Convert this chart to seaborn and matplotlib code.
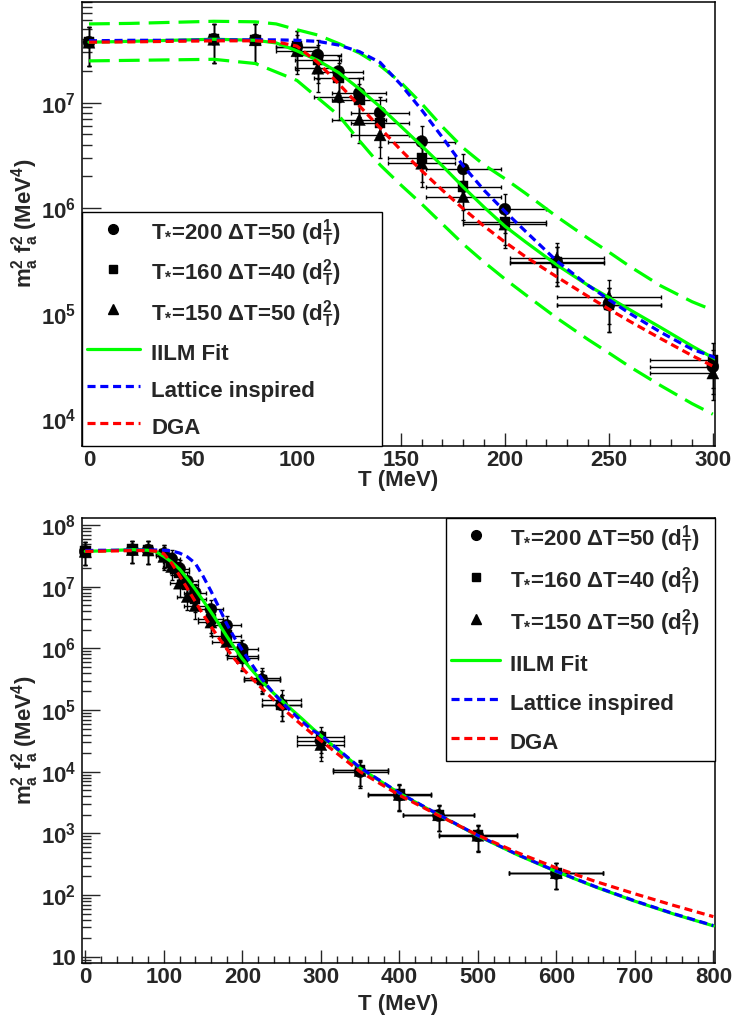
import numpy as np
import pandas as pd
import matplotlib
matplotlib.use('Agg')
import matplotlib.pyplot as plt
import seaborn as sns
from matplotlib.lines import Line2D
from matplotlib.ticker import LogLocator, MultipleLocator, FuncFormatter, NullFormatter, FixedLocator

# model curves (log10 of m_a^2 f_a^2 in MeV^4)
T_curve = [0, 20, 40, 60, 80, 90, 100, 110, 120, 130, 140, 150, 160, 170, 180, 190, 200, 210,
           225, 240, 250, 260, 275, 290, 300, 350, 400, 450, 500, 550, 600, 650, 700, 750, 800]
iilm_log = [7.572, 7.58, 7.59, 7.60, 7.59, 7.565, 7.49, 7.40, 7.285, 7.13, 6.96, 6.775, 6.59, 6.40,
            6.20, 6.01, 5.83, 5.68, 5.463, 5.27, 5.155, 5.04, 4.87, 4.695, 4.585,
            4.055, 3.65, 3.30, 2.96, 2.655, 2.38, 2.13, 1.90, 1.69, 1.50]
lattice_log = [7.585, 7.59, 7.59, 7.593, 7.594, 7.594, 7.59, 7.58, 7.545, 7.483, 7.38, 7.17, 6.93,
               6.67, 6.40, 6.17, 5.97, 5.78, 5.50, 5.27, 5.135, 5.005, 4.825, 4.665, 4.595,
               4.065, 3.655, 3.305, 2.965, 2.66, 2.385, 2.135, 1.905, 1.695, 1.505]
dga_log = [7.572, 7.575, 7.58, 7.585, 7.585, 7.575, 7.535, 7.38, 7.18, 6.97, 6.76, 6.55, 6.355,
           6.17, 5.995, 5.83, 5.68, 5.54, 5.35, 5.165, 5.045, 4.93, 4.765, 4.605, 4.505,
           4.0, 3.62, 3.29, 2.97, 2.69, 2.44, 2.22, 2.02, 1.83, 1.65]

# IILM uncertainty band (top panel only)
T_band = T_curve[:25]
band_hi_log = [7.745, 7.75, 7.76, 7.77, 7.765, 7.745, 7.69, 7.64, 7.56, 7.47, 7.35, 7.19, 6.99,
               6.77, 6.57, 6.41, 6.28, 6.14, 5.92, 5.715, 5.585, 5.45, 5.265, 5.115, 5.035]
band_lo_log = [7.395, 7.40, 7.405, 7.41, 7.37, 7.29, 7.21, 7.045, 6.88, 6.64, 6.41, 6.22, 6.04,
               5.85, 5.66, 5.49, 5.33, 5.18, 4.96, 4.757, 4.63, 4.50, 4.32, 4.15, 4.05]

# data points
T_pts = [0, 60, 80, 100, 110, 120, 130, 140, 160, 180, 200, 225, 250, 300, 350, 400, 450, 500, 600]
xerr_pts = [0, 0, 0, 10, 11, 12, 13, 14, 16, 18, 20, 22.5, 25, 30, 35, 40, 45, 50, 60]
yerr_frac = [0.4, 0.4, 0.4, 0.4, 0.4, 0.4, 0.4, 0.4, 0.4, 0.4, 0.4, 0.4, 0.45, 0.45, 0.45,
             0.45, 0.45, 0.45, 0.45]
d1_200_log = [7.572, 7.60, 7.594, 7.53, 7.45, 7.294, 7.089, 6.905, 6.631, 6.372, 5.99, 5.49,
              5.084, 4.50, 4.00, 3.62, 3.29, 2.96, 2.35]
d2_160_log = [7.572, 7.60, 7.594, 7.53, 7.404, 7.231, 7.026, 6.805, 6.473, 6.205, 5.87, 5.485,
              5.084, 4.56, 4.027, 3.633, 3.30, 2.973, 2.362]
d2_150_log = [7.572, 7.60, 7.594, 7.49, 7.326, 7.057, 6.84, 6.694, 6.426, 6.11, 5.85, 5.527,
              5.163, 4.44, 4.02, 3.63, 3.30, 2.97, 2.36]

series_names = ['d1_200', 'd2_160', 'd2_150']
series_labels = ['T$_{*}$=200 ΔT=50 (d$^{1}_{T}$)',
                 'T$_{*}$=160 ΔT=40 (d$^{2}_{T}$)',
                 'T$_{*}$=150 ΔT=50 (d$^{2}_{T}$)']
curve_labels = ['IILM Fit', 'Lattice inspired', 'DGA']

sns.set_style('ticks')
plt.rcParams['font.family'] = ['Liberation Sans', 'DejaVu Sans']
plt.rcParams['font.weight'] = 'bold'
plt.rcParams['axes.labelweight'] = 'bold'
plt.rcParams['mathtext.fontset'] = 'custom'
plt.rcParams['mathtext.rm'] = 'Liberation Sans:bold'
plt.rcParams['mathtext.it'] = 'Liberation Sans:bold'
plt.rcParams['mathtext.bf'] = 'Liberation Sans:bold'
plt.rcParams['mathtext.sf'] = 'Liberation Sans:bold'
plt.rcParams['lines.scale_dashes'] = False

GREEN, BLUE, RED = '#00ff00', '#0000ff', '#ff0000'
SHORT = (0, (5.8, 3.4))
LONG = (0, (15, 6.5))

pts = pd.DataFrame({
    'T': T_pts * 3,
    'val': 10 ** np.concatenate([d1_200_log, d2_160_log, d2_150_log]),
    'series': np.repeat(series_names, len(T_pts)),
})
pts['xerr'] = xerr_pts * 3
pts['yerr'] = pts['val'] * np.array(yerr_frac * 3)
marker_map = {'d1_200': 'o', 'd2_160': 's', 'd2_150': '^'}
size_map = {'d1_200': 75, 'd2_160': 56, 'd2_150': 75}

curves = pd.DataFrame({'T': T_curve, 'iilm': 10 ** np.array(iilm_log),
                       'lattice': 10 ** np.array(lattice_log), 'dga': 10 ** np.array(dga_log)})
band = pd.DataFrame({'T': T_band, 'hi': 10 ** np.array(band_hi_log), 'lo': 10 ** np.array(band_lo_log)})


def log_label(v, pos):
    p = int(round(np.log10(v)))
    return '10' if p == 1 else r'$10^{%d}$' % p


def draw_panel(ax, tmax, show_band, decades):
    sub = pts[pts['T'] <= tmax]
    for name in series_names:
        s = sub[sub['series'] == name]
        ax.errorbar(s['T'], s['val'], xerr=s['xerr'], yerr=s['yerr'], fmt='none',
                    ecolor='black', elinewidth=1, capsize=1.5, capthick=1, zorder=2)
    sns.scatterplot(data=sub, x='T', y='val', style='series', markers=marker_map,
                    size='series', sizes=size_map, color='black', edgecolor='black',
                    linewidth=0.3, legend=False, ax=ax, zorder=3, clip_on=False)
    if show_band:
        for col in ['hi', 'lo']:
            sns.lineplot(data=band, x='T', y=col, ax=ax, color=GREEN, lw=2.3, linestyle=LONG,
                         sort=False, estimator=None, zorder=4)
    sns.lineplot(data=curves, x='T', y='iilm', ax=ax, color=GREEN, lw=2.3,
                 sort=False, estimator=None, zorder=5)
    sns.lineplot(data=curves, x='T', y='lattice', ax=ax, color=BLUE, lw=2.3, linestyle=SHORT,
                 sort=False, estimator=None, zorder=6)
    sns.lineplot(data=curves, x='T', y='dga', ax=ax, color=RED, lw=2.3, linestyle=SHORT,
                 sort=False, estimator=None, zorder=7)
    ax.set_yscale('log')
    ax.yaxis.set_major_locator(FixedLocator([10.0 ** d for d in decades]))
    ax.yaxis.set_minor_locator(LogLocator(base=10, subs=np.arange(2, 10), numticks=20))
    ax.yaxis.set_major_formatter(FuncFormatter(log_label))
    ax.yaxis.set_minor_formatter(NullFormatter())
    ax.tick_params(axis='both', which='both', direction='in', top=False, right=False,
                   labelsize=16, width=1)
    ax.tick_params(axis='y', which='major', length=14, pad=4)
    ax.tick_params(axis='y', which='minor', length=7)
    ax.tick_params(axis='x', which='major', length=9.5, pad=3)
    ax.tick_params(axis='x', which='minor', length=5)
    for sp in ax.spines.values():
        sp.set_linewidth(1.1)
        sp.set_color('black')
    ax.set_xlabel('T (MeV)', fontsize=16)
    ax.set_ylabel('m$_{a}^{2}$ f$_{a}^{2}$ (MeV$^{4}$)', fontsize=16)
    ax.yaxis.set_label_coords(-0.064, 0.5)


def add_legend(ax, bbox, loc, handlelength, handletextpad, labelspacing, borderpad):
    handles = [
        Line2D([], [], marker='o', color='black', linestyle='none', markersize=7),
        Line2D([], [], marker='s', color='black', linestyle='none', markersize=6),
        Line2D([], [], marker='^', color='black', linestyle='none', markersize=7),
        Line2D([], [], color=GREEN, lw=2.3),
        Line2D([], [], color=BLUE, lw=2.3, linestyle=SHORT),
        Line2D([], [], color=RED, lw=2.3, linestyle=SHORT),
    ]
    leg = ax.legend(handles, series_labels + curve_labels, loc=loc, bbox_to_anchor=bbox,
                    mode='expand', borderaxespad=0, fontsize=16, frameon=True, fancybox=False,
                    framealpha=1, edgecolor='black', handlelength=handlelength,
                    handletextpad=handletextpad, handleheight=1.6, labelspacing=labelspacing,
                    borderpad=borderpad)
    leg.get_frame().set_linewidth(1.0)
    leg.set_zorder(10)


fig = plt.figure(figsize=(7.34, 10.21), dpi=100)
ax1 = fig.add_axes([0.1113, 0.5635, 0.8627, 0.4349])
ax2 = fig.add_axes([0.1113, 0.0565, 0.8627, 0.4359])

draw_panel(ax1, 300, True, [4, 5, 6, 7])
ax1.set_xlim(-3.5, 301)
ax1.set_ylim(10 ** 3.752, 10 ** 7.956)
ax1.xaxis.set_major_locator(MultipleLocator(50))
ax1.xaxis.set_minor_locator(MultipleLocator(10))
ax1.xaxis.set_label_coords(0.5, -0.055)
add_legend(ax1, (0, 0, 0.474, 0.518), 'lower left', 2.4, 0.5, 0.38, 0.22)

draw_panel(ax2, 800, False, [1, 2, 3, 4, 5, 6, 7, 8])
ax2.set_xlim(-4.6, 802)
ax2.set_ylim(10 ** 0.893, 10 ** 8.109)
ax2.xaxis.set_major_locator(MultipleLocator(100))
ax2.xaxis.set_minor_locator(MultipleLocator(20))
ax2.xaxis.set_label_coords(0.5, -0.069)
ax2.tick_params(axis='y', which='major', length=13)
ax2.tick_params(axis='y', which='minor', length=6.5)
add_legend(ax2, (0.576, 0.457, 0.424, 0.543), 'upper right', 2.2, 0.42, 0.46, 0.22)

fig.savefig('out.png', dpi=100)
